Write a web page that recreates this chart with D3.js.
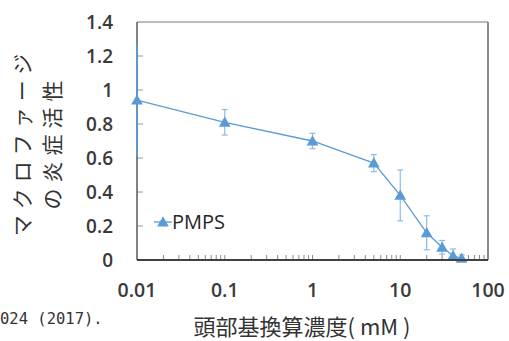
<!DOCTYPE html>
<html>
<head>
<meta charset="utf-8">
<script src="https://cdn.jsdelivr.net/npm/d3@7"></script>
<style>
  body { margin: 0; background: #fff; }
  svg { display: block; }
</style>
</head>
<body>
<div id="chart"></div>
<script>
// concentration (mM) vs relative inflammatory activity
const concentrations = [0.01, 0.1, 1, 5, 10, 20, 30, 40, 50];
const activity = [0.94, 0.81, 0.70, 0.57, 0.38, 0.16, 0.075, 0.025, 0.01];
const errors = [0.33, 0.075, 0.045, 0.05, 0.15, 0.10, 0.04, 0.04, 0.02];
const xTickValues = [0.01, 0.1, 1, 10, 100];
const xTickLabels = ['0.01', '0.1', '1', '10', '100'];
const yTickValues = [0, 0.2, 0.4, 0.6, 0.8, 1, 1.2, 1.4];
const yTickLabels = ['0', '0.2', '0.4', '0.6', '0.8', '1', '1.2', '1.4'];
const seriesName = 'PMPS';
const yTitleLines = ['マクロファージ', 'の炎症活性'];
const xTitle = '頭部基換算濃度( mM )';
const citation = '024 (2017).';

const width = 509;
const height = 341;
const margin = { top: 22, right: 21, bottom: 81, left: 137 };

const blue = '#5b9bd5';
const numFont = '"Open Sans", "Noto Sans", sans-serif';
const jpFont = '"Noto Sans CJK JP", sans-serif';

const svg = d3.select('#chart')
  .append('svg')
  .attr('width', width)
  .attr('height', height);

const x = d3.scaleLog()
  .domain([0.01, 100])
  .range([margin.left, width - margin.right]);

const y = d3.scaleLinear()
  .domain([0, 1.4])
  .range([height - margin.bottom, margin.top]);

// frame (top + right lighter)
svg.append('line')
  .attr('x1', x(0.01)).attr('x2', x(100))
  .attr('y1', y(1.4)).attr('y2', y(1.4))
  .attr('stroke', '#a6a6a6').attr('stroke-width', 1.5);
svg.append('line')
  .attr('x1', x(100)).attr('x2', x(100))
  .attr('y1', y(1.4)).attr('y2', y(0))
  .attr('stroke', '#8c8c8c').attr('stroke-width', 2);

// minor ticks on the log axis, pointing into the plot
const minorTicks = x.ticks().filter(d => d > 0.01 && d <= 100);
svg.append('g')
  .attr('stroke', '#8c8c8c')
  .attr('stroke-width', 1)
  .selectAll('line')
  .data(minorTicks)
  .join('line')
  .attr('x1', d => x(d)).attr('x2', d => x(d))
  .attr('y1', y(0)).attr('y2', y(0) - 5);

// y ticks pointing in
svg.append('g')
  .attr('stroke', '#9a9a9a')
  .attr('stroke-width', 1)
  .selectAll('line')
  .data(yTickValues.slice(1, -1))
  .join('line')
  .attr('x1', x(0.01)).attr('x2', x(0.01) + 6)
  .attr('y1', d => y(d)).attr('y2', d => y(d));

// left axis line
svg.append('line')
  .attr('x1', x(0.01)).attr('x2', x(0.01))
  .attr('y1', y(1.4)).attr('y2', y(0))
  .attr('stroke', '#595959').attr('stroke-width', 1.5);

// y tick labels
svg.append('g')
  .selectAll('text')
  .data(yTickValues)
  .join('text')
  .attr('x', 113)
  .attr('y', d => y(d))
  .attr('dy', '0.36em')
  .attr('text-anchor', 'end')
  .attr('font-family', numFont)
  .attr('font-size', 19)
  .attr('font-weight', 600)
  .attr('fill', '#3a3a3a')
  .text((d, i) => yTickLabels[i]);

// x tick labels
svg.append('g')
  .selectAll('text')
  .data(xTickValues)
  .join('text')
  .attr('x', d => x(d))
  .attr('y', 297)
  .attr('text-anchor', 'middle')
  .attr('font-family', numFont)
  .attr('font-size', 19.5)
  .attr('font-weight', 600)
  .attr('fill', '#3a3a3a')
  .text((d, i) => xTickLabels[i]);

// error bars
const points = concentrations.map((c, i) => ({ c, v: activity[i], e: errors[i] }));
const errG = svg.append('g')
  .attr('stroke', '#8fbbe3')
  .attr('stroke-width', 1.2);
errG.selectAll('line.bar')
  .data(points)
  .join('line')
  .attr('class', 'bar')
  .attr('stroke', (d, i) => i === 0 ? blue : null)
  .attr('stroke-width', (d, i) => i === 0 ? 1.6 : null)
  .attr('x1', d => x(d.c)).attr('x2', d => x(d.c))
  .attr('y1', d => y(d.v + d.e)).attr('y2', d => y(Math.max(0, d.v - d.e)));
errG.selectAll('line.cap')
  .data(points.slice(1).flatMap(d => [d.v + d.e, Math.max(0, d.v - d.e)].map(v => ({ c: d.c, v }))))
  .join('line')
  .attr('class', 'cap')
  .attr('x1', d => x(d.c) - 3).attr('x2', d => x(d.c) + 3)
  .attr('y1', d => y(d.v)).attr('y2', d => y(d.v));

// line
svg.append('path')
  .datum(points)
  .attr('fill', 'none')
  .attr('stroke', blue)
  .attr('stroke-width', 1.3)
  .attr('d', d3.line().x(d => x(d.c)).y(d => y(d.v)));

// triangle markers
const tri = d3.symbol().type(d3.symbolTriangle).size(60);
svg.append('g')
  .selectAll('path')
  .data(points)
  .join('path')
  .attr('transform', d => `translate(${x(d.c)},${y(d.v) + 1})`)
  .attr('d', tri)
  .attr('fill', blue);

// bottom axis line on top of markers
svg.append('line')
  .attr('x1', x(0.01)).attr('x2', x(100))
  .attr('y1', y(0)).attr('y2', y(0))
  .attr('stroke', '#404040').attr('stroke-width', 2);

// legend
const legend = svg.append('g').attr('transform', 'translate(154,222)');
legend.append('line')
  .attr('x1', 0).attr('x2', 18)
  .attr('stroke', blue).attr('stroke-width', 1.3);
legend.append('path')
  .attr('transform', 'translate(9,1)')
  .attr('d', tri)
  .attr('fill', blue);
legend.append('text')
  .attr('x', 18)
  .attr('dy', '0.36em')
  .attr('font-family', numFont)
  .attr('font-size', 20)
  .attr('fill', '#262626')
  .text(seriesName);

// y title (two rotated lines)
svg.append('g')
  .selectAll('text')
  .data(yTitleLines)
  .join('text')
  .attr('transform', (d, i) => `translate(${22 + i * 30},142) rotate(-90)`)
  .attr('dy', '0.36em')
  .attr('text-anchor', 'middle')
  .attr('font-family', jpFont)
  .attr('font-size', 21)
  .attr('letter-spacing', 6)
  .attr('fill', '#333')
  .text(d => d);

// x title
svg.append('text')
  .attr('x', 302)
  .attr('y', 335)
  .attr('text-anchor', 'middle')
  .attr('font-family', jpFont)
  .attr('font-size', 22)
  .attr('fill', '#333')
  .text(xTitle);

// clipped citation fragment
svg.append('text')
  .attr('x', 0)
  .attr('y', 324)
  .attr('font-family', '"DejaVu Sans Mono", monospace')
  .attr('font-size', 15.5)
  .attr('fill', '#333')
  .text(citation);
</script>
</body>
</html>
